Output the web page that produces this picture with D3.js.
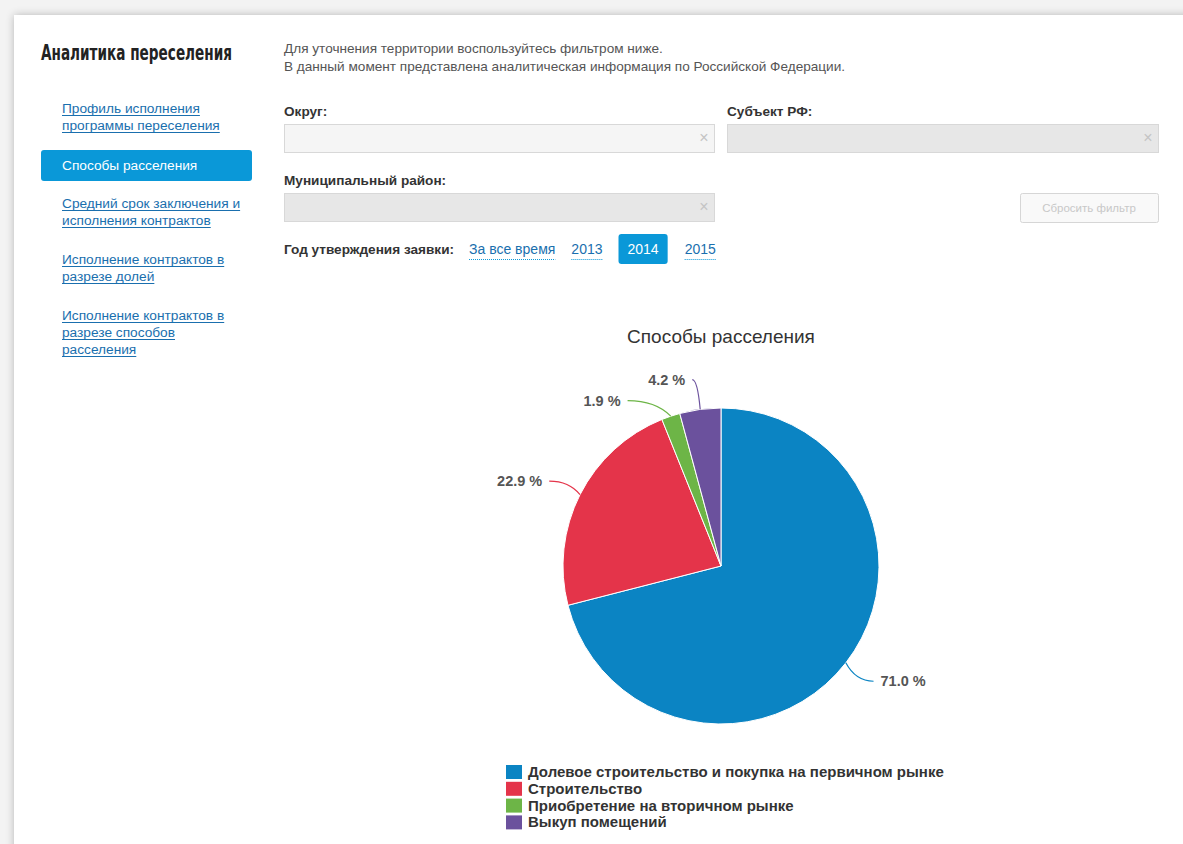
<!DOCTYPE html>
<html>
<head>
<meta charset="utf-8">
<script src="https://cdn.jsdelivr.net/npm/d3@7"></script>
<style>
  html, body { margin: 0; padding: 0; background: #ececec; }
  svg { display: block; font-family: "Liberation Sans", Arial, sans-serif; }
</style>
</head>
<body>
<svg id="page" width="1183" height="844"></svg>
<script>
// chart data
const categories = [
  "Долевое строительство и покупка на первичном рынке",
  "Строительство",
  "Приобретение на вторичном рынке",
  "Выкуп помещений"
];
const shares = [71.0, 22.9, 1.9, 4.2];
const sliceColors = ["#0b84c3", "#e4344a", "#6db547", "#6b519d"];

// page texts
const menuItems = [
  ["Профиль исполнения", "программы переселения"],
  ["Способы расселения"],
  ["Средний срок заключения и", "исполнения контрактов"],
  ["Исполнение контрактов в", "разрезе долей"],
  ["Исполнение контрактов в", "разрезе способов", "расселения"]
];
const activeMenu = 1;
const years = ["За все время", "2013", "2014", "2015"];
const activeYear = "2014";

const svg = d3.select("#page");
const W = 1183, H = 844;
const blue = "#0a98d8";
const linkBlue = "#1a6fae";

// card with soft shadow
const defs = svg.append("defs");
const f = defs.append("filter").attr("id", "shadow").attr("x", "-5%").attr("y", "-5%").attr("width", "110%").attr("height", "110%");
f.append("feGaussianBlur").attr("in", "SourceAlpha").attr("stdDeviation", 4);
f.append("feOffset").attr("dx", 0).attr("dy", 0).attr("result", "b");
f.append("feComponentTransfer").append("feFuncA").attr("type", "linear").attr("slope", 0.25);
const fm = f.append("feMerge");
fm.append("feMergeNode");
fm.append("feMergeNode").attr("in", "SourceGraphic");

svg.append("rect").attr("width", W).attr("height", H).attr("fill", "#f3f3f3");
svg.append("rect").attr("x", 14).attr("y", 15).attr("width", W + 20).attr("height", H + 20)
  .attr("fill", "#fff").attr("filter", "url(#shadow)");

// left column
svg.append("text").attr("x", 41).attr("y", 60)
  .style("font-family", "'DejaVu Sans Condensed', 'Liberation Sans Narrow', sans-serif")
  .style("font-size", "21px").style("font-weight", "bold").attr("fill", "#222")
  .attr("textLength", 191).attr("lengthAdjust", "spacingAndGlyphs")
  .text("Аналитика переселения");

const menuTops = [108, 165, 203, 259, 315];
menuItems.forEach((lines, i) => {
  const g = svg.append("g");
  if (i === activeMenu) {
    g.append("rect").attr("x", 41).attr("y", 150).attr("width", 211).attr("height", 31)
      .attr("rx", 3).attr("fill", blue);
  }
  lines.forEach((line, j) => {
    const y = menuTops[i] + j * 17 + 5;
    const t = g.append("text").attr("x", 62).attr("y", y)
      .style("font-size", "13.7px")
      .attr("fill", i === activeMenu ? "#fff" : linkBlue)
      .text(line);
    if (i !== activeMenu) {
      const w = t.node().getComputedTextLength();
      g.append("line").attr("x1", 62).attr("x2", 62 + w).attr("y1", y + 2.5).attr("y2", y + 2.5)
        .attr("stroke", linkBlue).attr("stroke-width", 1);
    }
  });
});

// filter block
const info = ["Для уточнения территории воспользуйтесь фильтром ниже.",
  "В данный момент представлена аналитическая информация по Российской Федерации."];
info.forEach((s, i) => svg.append("text").attr("x", 284).attr("y", 53 + i * 18)
  .style("font-size", "13.6px").attr("fill", "#555").text(s));

function label(x, y, s) {
  return svg.append("text").attr("x", x).attr("y", y).style("font-size", "13.6px")
    .style("font-weight", "bold").attr("fill", "#333").text(s);
}
function field(x, y, w, fill) {
  svg.append("rect").attr("x", x + 0.5).attr("y", y + 0.5).attr("width", w).attr("height", 28)
    .attr("fill", fill).attr("stroke", "#d8d8d8");
  svg.append("text").attr("x", x + w - 10).attr("y", y + 19).attr("text-anchor", "middle")
    .style("font-size", "16px").attr("fill", "#c4c4c4").text("×");
}
label(284, 116, "Округ:");
field(284, 124, 430, "#f5f5f5");
label(727, 116, "Субъект РФ:");
field(727, 124, 431, "#e7e7e7");
label(284, 185, "Муниципальный район:");
field(284, 193, 430, "#e7e7e7");

svg.append("rect").attr("x", 1020.5).attr("y", 193.5).attr("width", 138).attr("height", 29).attr("rx", 2)
  .attr("fill", "#f9f9f9").attr("stroke", "#d6d6d6");
svg.append("text").attr("x", 1089).attr("y", 212).attr("text-anchor", "middle")
  .style("font-size", "11.5px").attr("fill", "#c8c8c8").text("Сбросить фильтр");

const yl = label(284, 254, "Год утверждения заявки:");
let yx = 284 + yl.node().getComputedTextLength() + 15;
years.forEach(yr => {
  const active = yr === activeYear;
  const g = svg.append("g");
  const t = g.append("text").attr("y", 254).style("font-size", "14px")
    .attr("fill", active ? "#fff" : linkBlue).text(yr);
  const w = t.node().getComputedTextLength();
  if (active) {
    g.insert("rect", "text").attr("x", yx).attr("y", 234).attr("width", w + 18).attr("height", 30)
      .attr("rx", 3).attr("fill", blue);
    t.attr("x", yx + 9);
    yx += w + 18 + 17;
  } else {
    t.attr("x", yx);
    g.append("line").attr("x1", yx).attr("x2", yx + w).attr("y1", 259.5).attr("y2", 259.5)
      .attr("stroke", blue).attr("stroke-dasharray", "1,1");
    yx += w + 16;
  }
});

// pie chart
const cx = 721, cy = 566, r = 158;
svg.append("text").attr("x", cx).attr("y", 343).attr("text-anchor", "middle")
  .style("font-size", "19px").attr("fill", "#333").text("Способы расселения");

const data = categories.map((c, i) => ({ name: c, value: shares[i], color: sliceColors[i] }));
const pie = d3.pie().sort(null).value(d => d.value);
const arcs = pie(data);
const arc = d3.arc().innerRadius(0).outerRadius(r);

const chart = svg.append("g").attr("transform", `translate(${cx},${cy})`);
chart.selectAll("path.slice").data(arcs).join("path").attr("class", "slice")
  .attr("d", arc).attr("fill", d => d.data.color)
  .attr("stroke", "#fff").attr("stroke-width", 1).attr("stroke-linejoin", "round");

// label layout: highcharts-like, labels on a ring of radius r+30
const R = r + 30;
const labels = arcs.map(d => {
  const a = (d.startAngle + d.endAngle) / 2;
  return {
    d, a,
    side: Math.sin(a) >= 0 ? 1 : -1,
    ax: r * Math.sin(a), ay: -r * Math.cos(a),
    y: -R * Math.cos(a)
  };
});
// push overlapping labels apart on each side
[1, -1].forEach(side => {
  const ls = labels.filter(l => l.side === side).sort((p, q) => p.y - q.y);
  for (let i = 1; i < ls.length; i++) {
    if (ls[i].y - ls[i - 1].y < 21) ls[i].y = ls[i - 1].y + 21;
  }
});
labels.forEach(l => {
  const dy = Math.max(-R, Math.min(R, l.y));
  l.x = l.side * Math.sqrt(R * R - dy * dy);
  const ex = l.x + l.side * 4, ey = l.y;
  const c1x = l.ax + (ex - l.ax) * 0.35;
  chart.append("path")
    .attr("d", `M${l.ax},${l.ay}Q${c1x},${ey} ${ex},${ey}`)
    .attr("fill", "none").attr("stroke", l.d.data.color).attr("stroke-width", 1.2);
  chart.append("text").attr("x", l.x + l.side * 11).attr("y", l.y + 5)
    .attr("text-anchor", l.side > 0 ? "start" : "end")
    .style("font-size", "14.5px").style("font-weight", "bold").attr("fill", "#555")
    .text(l.d.data.value.toFixed(1) + " %");
});

// legend
const legend = svg.append("g").attr("transform", "translate(506,765)");
const li = legend.selectAll("g").data(data).join("g")
  .attr("transform", (d, i) => `translate(0,${i * 16.8})`);
li.append("rect").attr("width", 16).attr("height", 14).attr("fill", d => d.color);
li.append("text").attr("x", 22).attr("y", 12).style("font-size", "15px").style("font-weight", "bold")
  .attr("fill", "#333").text(d => d.name);
</script>
</body>
</html>
